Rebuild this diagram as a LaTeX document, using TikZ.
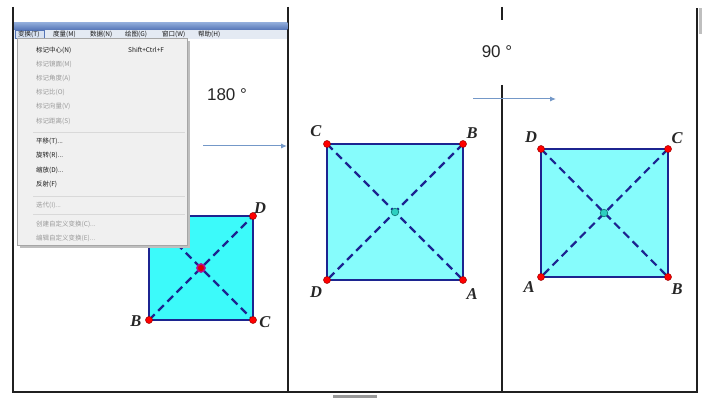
\documentclass[tikz,border=0pt]{standalone}
\usepackage{fontspec}
\setmainfont{Liberation Serif}
\newfontfamily\cjk{Noto Sans CJK SC}
\newfontfamily\arial{Liberation Sans}
\usetikzlibrary{arrows.meta}
\definecolor{sqline}{HTML}{1C2490}
\definecolor{cyanA}{HTML}{3CFAFA}
\definecolor{cyanB}{HTML}{86FCFC}
\definecolor{arrowc}{HTML}{7498C8}
\definecolor{menubg}{HTML}{F0F0F0}
\definecolor{menubar}{HTML}{E4EAF3}
\definecolor{menugray}{HTML}{9A9A9A}
\definecolor{frame}{HTML}{202020}
\definecolor{titletop}{HTML}{8CA8D8}
\definecolor{titlebot}{HTML}{5474B6}
\definecolor{cfill}{HTML}{2CCFC0}
\definecolor{cdraw}{HTML}{107C78}
\tikzset{
  frameline/.style={draw=frame, line width=1.4pt},
  side/.style={draw=sqline, line width=2.2pt, line join=round},
  diag/.style={draw=sqline, line width=2.2pt, dash pattern=on 8pt off 5pt},
  vdot/.style={circle, fill=red, draw=red!60!black, line width=0.5pt, inner sep=0pt, minimum size=7pt},
  cdotA/.style={circle, fill=red!85!black, draw=magenta!70!blue, line width=1.6pt, inner sep=0pt, minimum size=8pt},
  cdotB/.style={circle, fill=cfill, draw=cdraw, line width=0.7pt, inner sep=0pt, minimum size=7.5pt},
  vlabel/.style={font=\fontsize{16.5}{16.5}\selectfont\bfseries\itshape, text=black!85, inner sep=0pt},
  deg/.style={font=\arial\fontsize{17}{17}\selectfont, text=black!85, inner sep=0pt},
  rotarrow/.style={draw=arrowc, line width=1pt, -{Latex[length=6pt,width=5pt]}},
  menuitem/.style={font=\cjk\fontsize{6.5}{7}\selectfont, anchor=west, inner sep=0pt},
  menuoff/.style={menuitem, text=menugray},
  menuon/.style={menuitem, text=black!90},
  menusep/.style={draw=black!15, line width=0.6pt},
}
\begin{document}
\begin{tikzpicture}[x=1pt,y=-1pt]
\useasboundingbox (0,0) rectangle (702,398);
\fill[white] (0,0) rectangle (702,398);

% ---------- left square (under the menu) ----------
\coordinate (LB) at (149,320); \coordinate (LC) at (253,320);
\coordinate (LD) at (253,216); \coordinate (LX) at (149,216);
\coordinate (LO) at (201,268);
\fill[cyanA] (LB) -- (LC) -- (LD) -- (LX) -- cycle;
\draw[side] (LB) -- (LC) -- (LD) -- (LX) -- cycle;
\draw[diag] (LB) -- (LD);
\draw[diag] (LX) -- (LC);
\node[vdot] (dLB) at (LB) {};
\node[vdot] (dLC) at (LC) {};
\node[vdot] (dLD) at (LD) {};
\node[cdotA] (dLO) at (LO) {};
\node[vlabel] (tLB) at (136,321) {B};
\node[vlabel] (tLC) at (265,322) {C};
\node[vlabel] (tLD) at (260,208) {D};

% ---------- middle square ----------
\coordinate (MC) at (327,144); \coordinate (MB) at (463,144);
\coordinate (MA) at (463,280); \coordinate (MD) at (327,280);
\coordinate (MO) at (395,212);
\fill[cyanB] (MC) -- (MB) -- (MA) -- (MD) -- cycle;
\draw[side] (MC) -- (MB) -- (MA) -- (MD) -- cycle;
\draw[diag] (MC) -- (MA);
\draw[diag] (MB) -- (MD);
\node[vdot] (dMC) at (MC) {};
\node[vdot] (dMB) at (MB) {};
\node[vdot] (dMA) at (MA) {};
\node[vdot] (dMD) at (MD) {};
\node[cdotB] (dMO) at (MO) {};
\node[vlabel] (tMC) at (316,131) {C};
\node[vlabel] (tMB) at (472,133) {B};
\node[vlabel] (tMD) at (316,292) {D};
\node[vlabel] (tMA) at (472,294) {A};

% ---------- right square ----------
\coordinate (RD) at (541,149); \coordinate (RC) at (668,149);
\coordinate (RB) at (668,277); \coordinate (RA) at (541,277);
\coordinate (RO) at (604,213);
\fill[cyanB] (RD) -- (RC) -- (RB) -- (RA) -- cycle;
\draw[side] (RD) -- (RC) -- (RB) -- (RA) -- cycle;
\draw[diag] (RD) -- (RB);
\draw[diag] (RC) -- (RA);
\node[vdot] (dRD) at (RD) {};
\node[vdot] (dRC) at (RC) {};
\node[vdot] (dRB) at (RB) {};
\node[vdot] (dRA) at (RA) {};
\node[cdotB] (dRO) at (RO) {};
\node[vlabel] (tRD) at (531,137) {D};
\node[vlabel] (tRC) at (677,138) {C};
\node[vlabel] (tRA) at (529,287) {A};
\node[vlabel] (tRB) at (677,289) {B};

% ---------- frame ----------
\draw[frameline] (13,7) -- (13,392) -- (697,392) -- (697,8);
\draw[frameline] (288,7) -- (288,392);
\draw[frameline] (502,7) -- (502,20);
\draw[frameline] (502,85) -- (502,392);
\fill[black!40] (333,395) rectangle (377,398);
\fill[black!25] (699,8) rectangle (702,34);

% ---------- angle labels and arrows ----------
\node[deg] (a180) at (227,95) {180 °};
\node[deg] (a90) at (497,52) {90 °};
\coordinate (r1s) at (203,146); \coordinate (r1e) at (287,146);
\coordinate (r2s) at (473,99);  \coordinate (r2e) at (556,99);
\draw[rotarrow] (r1s) -- (r1e);
\draw[rotarrow] (r2s) -- (r2e);

% ---------- window title bar and menu bar ----------
\shade[top color=titletop, bottom color=titlebot] (14,23) rectangle (287.3,30);
\fill[menubar] (14,30) rectangle (287.3,39);
\draw[draw=titlebot, fill=titletop!35, line width=0.6pt] (15.5,30.5) rectangle (44,38.5);
\node[menuon] (mb1) at (18,34.6) {变换(T)};
\node[menuon] (mb2) at (53,34.6) {度量(M)};
\node[menuon] (mb3) at (90,34.6) {数据(N)};
\node[menuon] (mb4) at (125,34.6) {绘图(G)};
\node[menuon] (mb5) at (162,34.6) {窗口(W)};
\node[menuon] (mb6) at (198,34.6) {帮助(H)};

% ---------- drop-down menu ----------
\fill[black!25] (20,41) rectangle (190,248);
\fill[menubg] (17,38.5) rectangle (187,245);
\draw[black!35, line width=0.6pt] (17,38.5) rectangle (187,245);
\node[menuon]  (m1)  at (36,50)  {标记中心(N)};
\node[menuon]  (m1k) at (128,50) {Shift+Ctrl+F};
\node[menuoff] (m2)  at (36,64)  {标记镜面(M)};
\node[menuoff] (m3)  at (36,78)  {标记角度(A)};
\node[menuoff] (m4)  at (36,92)  {标记比(O)};
\node[menuoff] (m5)  at (36,106) {标记向量(V)};
\node[menuoff] (m6)  at (36,121) {标记距离(S)};
\draw[menusep] (33,132) -- (185,132);
\node[menuon]  (m7)  at (36,141) {平移(T)...};
\node[menuon]  (m8)  at (36,155) {旋转(R)...};
\node[menuon]  (m9)  at (36,170) {缩放(D)...};
\node[menuon]  (m10) at (36,184) {反射(F)};
\draw[menusep] (33,196) -- (185,196);
\node[menuoff] (m11) at (36,205) {迭代(I)...};
\draw[menusep] (33,214) -- (185,214);
\node[menuoff] (m12) at (36,224) {创建自定义变换(C)...};
\node[menuoff] (m13) at (36,238) {编辑自定义变换(E)...};
\end{tikzpicture}
\end{document}
